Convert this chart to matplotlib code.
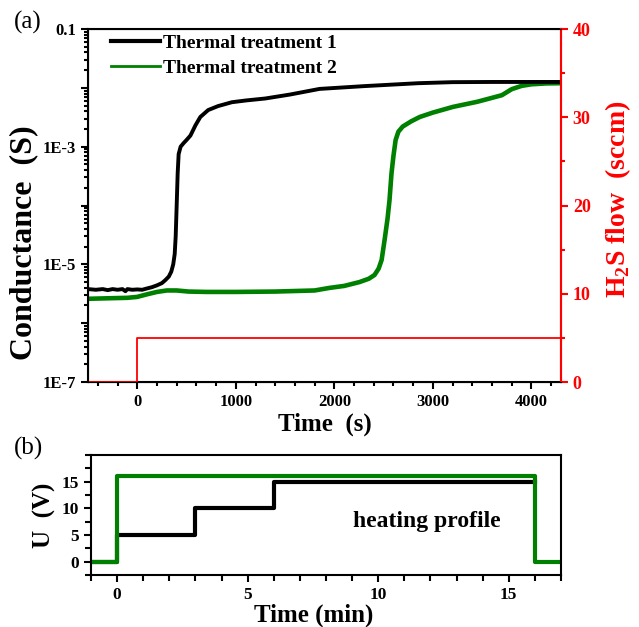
import matplotlib
matplotlib.use("Agg")
import matplotlib.pyplot as plt
from matplotlib.ticker import LogLocator, FixedLocator, FuncFormatter, MultipleLocator, NullFormatter

plt.rcParams['font.family'] = ['Liberation Serif', 'DejaVu Serif']
plt.rcParams['mathtext.fontset'] = 'custom'
plt.rcParams['mathtext.rm'] = 'Liberation Serif:bold'
plt.rcParams['mathtext.bf'] = 'Liberation Serif:bold'

# (a) conductance during H2S exposure
t_treat1 = [-500, -420, -350, -300, -250, -200, -150, -120, -100, -50, 0, 50, 100, 150, 200,
            250, 285, 320, 345, 365, 380, 390, 400, 410, 420, 440, 470, 500, 540, 590, 640,
            720, 820, 960, 1100, 1300, 1550, 1850, 2300, 2850, 3200, 3600, 4300]
g_treat1 = [3.8e-6, 3.7e-6, 3.8e-6, 3.65e-6, 3.8e-6, 3.7e-6, 3.8e-6, 3.5e-6, 3.8e-6, 3.7e-6,
            3.75e-6, 3.7e-6, 3.9e-6, 4.1e-6, 4.4e-6, 4.8e-6, 5.4e-6, 6.2e-6, 7.5e-6, 1.0e-5,
            1.5e-5, 3.0e-5, 1.0e-4, 3.5e-4, 7.5e-4, 1.0e-3, 1.15e-3, 1.3e-3, 1.55e-3, 2.3e-3,
            3.2e-3, 4.2e-3, 4.9e-3, 5.7e-3, 6.1e-3, 6.6e-3, 7.7e-3, 9.6e-3, 1.07e-2, 1.2e-2,
            1.25e-2, 1.26e-2, 1.26e-2]

t_treat2 = [-500, -300, -100, 0, 100, 200, 300, 400, 520, 700, 1000, 1400, 1800, 1950, 2100,
            2255, 2350, 2408, 2450, 2480, 2510, 2540, 2560, 2580, 2600, 2622, 2650, 2694, 2780,
            2867, 3000, 3204, 3450, 3700, 3800, 3900, 4000, 4150, 4300]
g_treat2 = [2.6e-6, 2.65e-6, 2.7e-6, 2.8e-6, 3.1e-6, 3.4e-6, 3.6e-6, 3.6e-6, 3.45e-6, 3.4e-6,
            3.4e-6, 3.45e-6, 3.6e-6, 3.98e-6, 4.3e-6, 5.0e-6, 5.7e-6, 6.6e-6, 8.5e-6, 1.19e-5,
            2.6e-5, 6.0e-5, 1.24e-4, 3.5e-4, 7.0e-4, 1.3e-3, 1.8e-3, 2.2e-3, 2.7e-3, 3.2e-3,
            3.8e-3, 4.75e-3, 5.8e-3, 7.5e-3, 9.5e-3, 1.08e-2, 1.15e-2, 1.19e-2, 1.2e-2]

t_flow = [-500, 0, 4300]
h2s_flow = [0, 5, 5]

# (b) heating profiles
t_min1 = [-1, 0, 3, 6, 16]
u_treat1 = [0, 5, 10, 15, 15]
t_min2 = [-1, 0, 16, 17]
u_treat2 = [0, 16, 0, 0]

green = '#008000'
bold = dict(fontweight='bold')

fig = plt.figure(figsize=(6.39, 6.27), dpi=100)
ax = fig.add_axes([0.1377, 0.3907, 0.7402, 0.563])
ax.plot(t_treat1, g_treat1, color='black', lw=2.8, label='Thermal treatment 1', zorder=3)
ax.plot(t_treat2, g_treat2, color=green, lw=3.3, label='Thermal treatment 2', zorder=2)
ax.set_yscale('log')
ax.set_ylim(1e-7, 0.1)
ax.set_xlim(-500, 4300)
ax.xaxis.set_major_locator(FixedLocator([0, 1000, 2000, 3000, 4000]))
ax.xaxis.set_minor_locator(MultipleLocator(200))
ax.yaxis.set_major_locator(LogLocator(base=10, numticks=20))
ax.yaxis.set_minor_locator(LogLocator(base=10, subs=range(2, 10), numticks=20))
ax.yaxis.set_minor_formatter(NullFormatter())
ylab = {1e-7: '1E-7', 1e-5: '1E-5', 1e-3: '1E-3', 0.1: '0.1'}
ax.yaxis.set_major_formatter(FuncFormatter(
    lambda v, p: next((s for k, s in ylab.items() if abs(v / k - 1) < 1e-3), '')))
ax.set_xlabel('Time  (s)', fontsize=18, labelpad=2, **bold)
ax.set_ylabel('Conductance  (S)', fontsize=23, **bold)
ax.yaxis.set_label_coords(-0.105, 0.394)
ax.tick_params(which='both', direction='out', width=1.5, labelsize=12)
ax.tick_params(which='major', length=5)
ax.tick_params(which='minor', length=3)
for lab in ax.get_xticklabels() + ax.get_yticklabels():
    lab.set_fontweight('bold')
for s in ax.spines.values():
    s.set_linewidth(1.5)
ax.spines['right'].set_color('red')
leg = ax.legend(loc='upper left', bbox_to_anchor=(0.012, 1.035), frameon=False,
                prop={'size': 14, 'weight': 'bold'}, handlelength=2.5,
                handletextpad=0.15, labelspacing=0.4)
leg.get_lines()[0].set_linewidth(3.0)
leg.get_lines()[1].set_linewidth(2.0)

ax2 = ax.twinx()
ax2.plot(t_flow, h2s_flow, color='red', lw=1.3, drawstyle='steps-post')
ax2.set_ylim(0, 40)
ax2.yaxis.set_major_locator(MultipleLocator(10))
ax2.yaxis.set_minor_locator(MultipleLocator(5))
ax2.tick_params(which='both', direction='out', width=1.5, colors='red', labelsize=13)
ax2.tick_params(which='major', length=5)
ax2.tick_params(which='minor', length=3)
for lab in ax2.get_yticklabels():
    lab.set_fontweight('bold')
ax2.spines['right'].set_color('red')
ax2.spines['right'].set_linewidth(1.5)
ax2.set_ylabel(r'H$_2$S flow  (sccm)', color='red', fontsize=20, **bold)
ax2.yaxis.set_label_coords(1.089, 0.518)

fig.text(0.022, 0.955, '(a)', fontsize=18)

bx = fig.add_axes([0.1424, 0.0829, 0.7355, 0.1914])
bx.plot(t_min1, u_treat1, color='black', lw=3, drawstyle='steps-post')
bx.plot(t_min2, u_treat2, color=green, lw=3, drawstyle='steps-post')
bx.set_xlim(-1, 17)
bx.set_ylim(-2.5, 20)
bx.xaxis.set_major_locator(MultipleLocator(5))
bx.xaxis.set_minor_locator(MultipleLocator(1))
bx.yaxis.set_major_locator(MultipleLocator(5))
bx.yaxis.set_minor_locator(MultipleLocator(2.5))
bx.set_yticks([0, 5, 10, 15])
bx.tick_params(which='both', direction='out', width=1.5, labelsize=12.5)
bx.tick_params(which='major', length=5)
bx.tick_params(which='minor', length=4)
for lab in bx.get_xticklabels() + bx.get_yticklabels():
    lab.set_fontweight('bold')
for s in bx.spines.values():
    s.set_linewidth(1.5)
bx.set_xlabel('Time (min)', fontsize=18, **bold)
bx.xaxis.set_label_coords(0.474, -0.235)
bx.set_ylabel('U  (V)', fontsize=18, labelpad=4, **bold)
bx.text(11.85, 7.5, 'heating profile', fontsize=17, ha='center', va='center', **bold)

fig.text(0.022, 0.275, '(b)', fontsize=18)

fig.savefig('out.png', dpi=100)
